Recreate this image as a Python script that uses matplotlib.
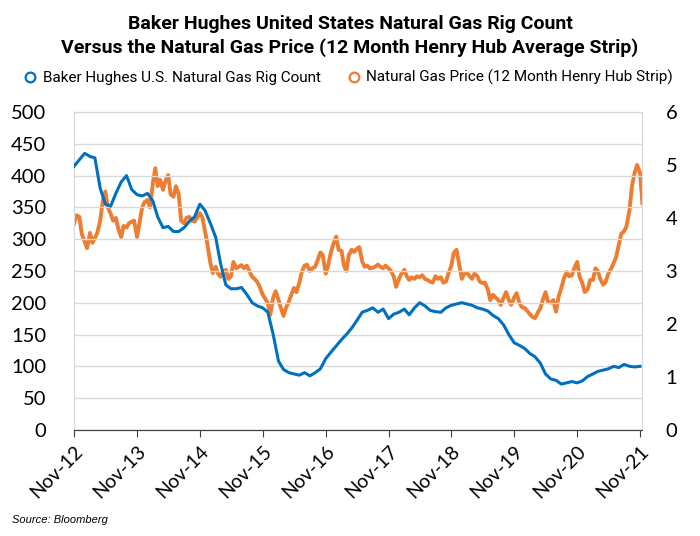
import numpy as np
import pandas as pd
import matplotlib
matplotlib.use("Agg")
import matplotlib.pyplot as plt
import matplotlib.dates as mdates
from matplotlib.lines import Line2D

# monthly rig count, Nov-2012 .. Nov-2021
rig_count = [
    415, 425, 435, 430, 428, 380, 355, 352, 372, 390, 400, 378,
    370, 368, 372, 360, 335, 318, 320, 312, 312, 318, 328, 335,
    355, 345, 325, 303, 262, 228, 222, 222, 224, 213, 200, 195,
    192, 185, 150, 108, 95, 90, 88, 86, 90, 85, 90, 96,
    112, 122, 132, 142, 150, 160, 172, 185, 188, 192, 185, 190,
    175, 182, 185, 190, 181, 192, 200, 195, 188, 186, 185, 192,
    196, 198, 200, 198, 196, 192, 190, 187, 180, 175, 165, 150,
    137, 133, 128, 120, 115, 105, 88, 80, 78, 72, 74, 76,
    74, 77, 84, 88, 92, 94, 96, 100, 98, 103, 100, 99,
    100,
]

# semi-monthly 12m Henry Hub strip, Nov-2012 .. mid Nov-2021
gas_price = [
    3.90, 4.05, 4.02, 3.70, 3.55, 3.43, 3.72, 3.53, 3.62, 3.72,
    3.95, 4.30, 4.50, 4.20, 4.08, 3.95, 4.00, 3.80, 3.64, 3.85,
    3.82, 3.90, 3.93, 3.95, 3.64, 3.90, 4.20, 4.30, 4.34, 4.20,
    4.66, 4.94, 4.60, 4.72, 4.53, 4.70, 4.81, 4.45, 4.40, 4.60,
    4.45, 3.95, 3.90, 4.00, 4.02, 3.95, 3.93, 4.00, 4.09, 4.02,
    3.75, 3.50, 3.15, 2.96, 3.08, 2.95, 2.89, 2.98, 3.02, 2.85,
    2.90, 3.17, 3.05, 3.08, 3.11, 3.05, 3.10, 3.00, 2.89, 2.85,
    2.79, 2.70, 2.55, 2.48, 2.39, 2.17, 2.50, 2.62, 2.45, 2.30,
    2.15, 2.30, 2.42, 2.55, 2.68, 2.60, 2.78, 2.98, 3.10, 3.12,
    3.00, 3.05, 3.08, 3.20, 3.35, 3.30, 2.95, 3.10, 3.35, 3.50,
    3.65, 3.40, 3.38, 3.10, 3.00, 3.30, 3.40, 3.36, 3.42, 3.45,
    3.18, 3.08, 3.10, 3.05, 3.06, 3.08, 3.12, 3.08, 3.05, 3.10,
    3.05, 3.00, 2.90, 2.70, 2.85, 2.95, 3.02, 2.90, 2.83, 2.88,
    2.85, 2.90, 2.88, 2.92, 2.85, 2.83, 2.80, 2.78, 2.90, 2.85,
    2.88, 2.78, 2.80, 2.95, 3.10, 3.34, 3.40, 3.15, 2.85, 2.95,
    2.96, 2.90, 2.85, 2.95, 2.90, 2.80, 2.77, 2.78, 2.65, 2.45,
    2.55, 2.50, 2.45, 2.36, 2.50, 2.60, 2.45, 2.36, 2.50, 2.58,
    2.40, 2.32, 2.30, 2.25, 2.18, 2.13, 2.11, 2.20, 2.30, 2.45,
    2.60, 2.42, 2.40, 2.45, 2.23, 2.50, 2.68, 2.85, 2.98, 2.90,
    2.92, 3.05, 3.17, 2.89, 2.77, 2.60, 2.65, 2.83, 2.83, 3.05,
    3.00, 2.85, 2.74, 2.79, 2.95, 3.03, 3.15, 3.26, 3.49, 3.70,
    3.75, 3.85, 4.15, 4.60, 4.85, 5.00, 4.85, 4.28,
]

rig_dates = pd.date_range("2012-11-01", periods=len(rig_count), freq="MS")
price_dates = pd.date_range("2012-11-01", periods=len(gas_price), freq="SMS")
tick_dates = pd.date_range("2012-11-01", periods=10, freq="12MS")
tick_labels = ["Nov-%02d" % (d.year % 100) for d in tick_dates]

blue = "#0070C0"
orange = "#ED7D31"
grid_c = "#D9D9D9"

fig = plt.figure(figsize=(7, 5.36), dpi=100)
ax = fig.add_axes([0.106, 0.198, 0.811, 0.593])
ax2 = ax.twinx()

ax2.plot(price_dates, gas_price, color=orange, lw=2.8, zorder=2)
ax.plot(rig_dates, rig_count, color=blue, lw=2.2, zorder=3)
ax.set_zorder(ax2.get_zorder() + 1)
ax.patch.set_visible(False)

ax.set_ylim(0, 500)
ax.set_yticks(range(0, 501, 50))
ax2.set_ylim(0, 6)
ax2.set_yticks(range(0, 7))
ax.set_xlim(pd.Timestamp("2012-11-01"), pd.Timestamp("2021-11-12"))
ax.set_xticks(tick_dates)
ax.set_xticklabels(tick_labels, rotation=45, ha="right", rotation_mode="anchor")

ax.grid(axis="y", color=grid_c, lw=1)
ax.set_axisbelow(True)

for a in (ax, ax2):
    for s in ("top", "left", "right"):
        a.spines[s].set_color(grid_c)
    a.spines["bottom"].set_color("#404040")
    a.tick_params(axis="y", length=0, labelsize=14.5)
ax.tick_params(axis="y", pad=20)
ax2.tick_params(axis="y", pad=17)
ax.tick_params(axis="x", length=5, color="#404040", labelsize=14, pad=4)

for lab in ax.get_yticklabels() + ax2.get_yticklabels() + ax.get_xticklabels():
    lab.set_fontfamily("Lato")

fig.text(0.5, 0.956, "Baker Hughes United States Natural Gas Rig Count",
         ha="center", va="center", fontsize=14, fontweight="bold",
         family="Roboto", stretch="condensed")
fig.text(0.5, 0.912, "Versus the Natural Gas Price (12 Month Henry Hub Average Strip)",
         ha="center", va="center", fontsize=14, fontweight="bold",
         family="Roboto", stretch="condensed")

handles = [
    Line2D([], [], ls="none", marker="o", mfc="none", mec=blue, mew=1.6, ms=7),
    Line2D([], [], ls="none", marker="o", mfc="none", mec=orange, mew=1.6, ms=7),
]
fig.legend(handles,
           ["Baker Hughes U.S. Natural Gas Rig Count",
            "Natural Gas Price (12 Month Henry Hub Strip)"],
           loc="center", bbox_to_anchor=(0.497, 0.855), ncol=2, frameon=False,
           handletextpad=0.3, columnspacing=1.7, handlelength=1.0,
           prop={"family": "Roboto", "size": 11})

fig.text(0.017, 0.03, "Source: Bloomberg", fontsize=8, style="italic",
         family="Liberation Sans", ha="left", va="center")

fig.savefig("out.png", dpi=100)
plt.close(fig)
